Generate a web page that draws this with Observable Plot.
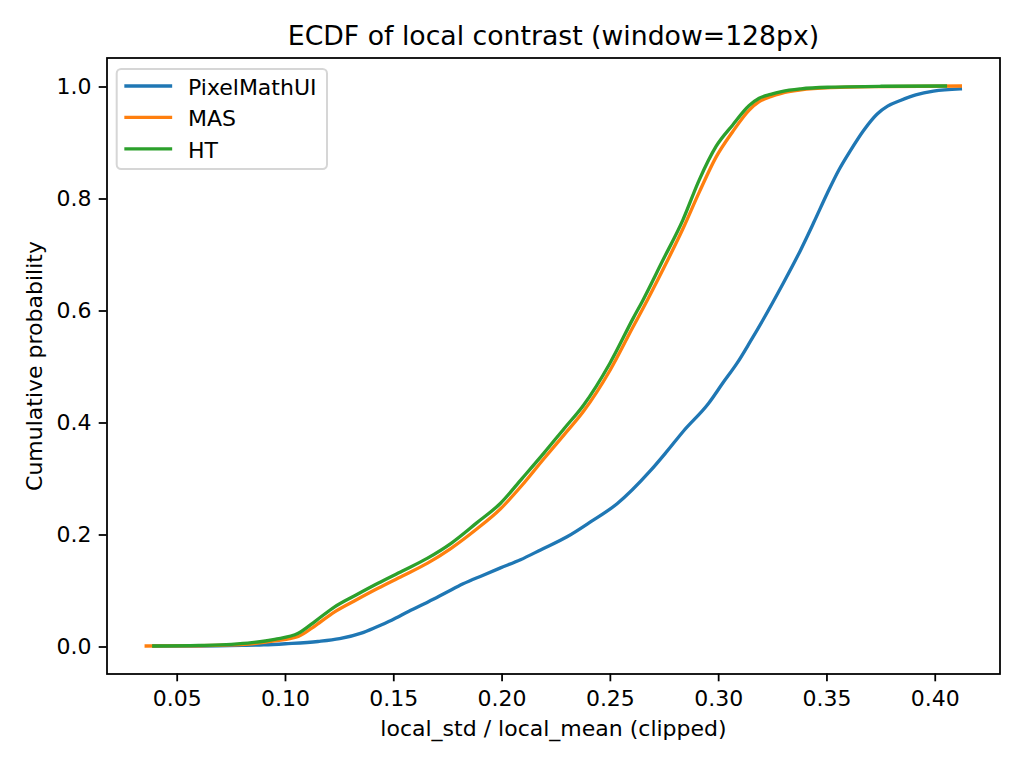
<!DOCTYPE html>
<html><head><meta charset="utf-8">
<script src="https://cdn.jsdelivr.net/npm/d3@7"></script>
<script src="https://cdn.jsdelivr.net/npm/@observablehq/plot@0.6"></script>
<style>
html,body{margin:0;padding:0;background:#fff;}
#chart{position:relative;width:1024px;height:768px;font-family:"DejaVu Sans",sans-serif;}
#legend{position:absolute;left:0;top:0;pointer-events:none;}
</style></head><body><div id="chart"></div>
<script>
const seriesNames = ["PixelMathUI", "MAS", "HT"];
const seriesColors = ["#1f77b4", "#ff7f0e", "#2ca02c"];

const pixelX = [0.0392, 0.060, 0.080, 0.090, 0.100, 0.115, 0.125, 0.135, 0.142, 0.149, 0.157, 0.166, 0.174, 0.182, 0.191, 0.199, 0.2085, 0.218, 0.230, 0.241, 0.2531, 0.2685, 0.276, 0.2838, 0.2953, 0.302, 0.3085, 0.3145, 0.3207, 0.329, 0.3377, 0.344, 0.3501, 0.3555, 0.3609, 0.367, 0.3732, 0.378, 0.3839, 0.391, 0.3992, 0.4116];
const pixelY = [0, 0, 0.001, 0.002, 0.004, 0.008, 0.013, 0.023, 0.034, 0.046, 0.062, 0.079, 0.095, 0.111, 0.126, 0.139, 0.154, 0.172, 0.195, 0.222, 0.254, 0.313, 0.347, 0.384, 0.433, 0.470, 0.505, 0.543, 0.584, 0.642, 0.706, 0.757, 0.808, 0.850, 0.885, 0.921, 0.950, 0.964, 0.974, 0.984, 0.991, 0.995];

const masX = [0.0357, 0.060, 0.075, 0.0845, 0.095, 0.1059, 0.114, 0.1227, 0.133, 0.1427, 0.154, 0.1656, 0.1763, 0.188, 0.1993, 0.2092, 0.2192, 0.2286, 0.2376, 0.2498, 0.2605, 0.2651, 0.274, 0.2835, 0.291, 0.2988, 0.3064, 0.3141, 0.3187, 0.324, 0.329, 0.338, 0.352, 0.375, 0.4116];
const masY = [0, 0.0005, 0.002, 0.004, 0.009, 0.017, 0.037, 0.061, 0.083, 0.103, 0.125, 0.148, 0.174, 0.208, 0.245, 0.287, 0.334, 0.377, 0.419, 0.492, 0.570, 0.603, 0.670, 0.745, 0.810, 0.873, 0.918, 0.957, 0.972, 0.981, 0.987, 0.993, 0.997, 0.999, 1.0];

const htX = [0.0392, 0.060, 0.075, 0.0845, 0.095, 0.1059, 0.114, 0.1227, 0.133, 0.1427, 0.154, 0.1656, 0.1763, 0.188, 0.1993, 0.2092, 0.2192, 0.2286, 0.2376, 0.2498, 0.2605, 0.2651, 0.274, 0.2835, 0.291, 0.2988, 0.3064, 0.3141, 0.3187, 0.324, 0.329, 0.338, 0.352, 0.375, 0.4047];
const htY = [0, 0.001, 0.003, 0.006, 0.012, 0.0227, 0.045, 0.070, 0.092, 0.112, 0.134, 0.157, 0.183, 0.219, 0.255, 0.299, 0.344, 0.388, 0.430, 0.505, 0.585, 0.618, 0.687, 0.761, 0.832, 0.892, 0.930, 0.965, 0.978, 0.985, 0.990, 0.995, 0.998, 0.9995, 1.0];

const xTicks = [0.05, 0.10, 0.15, 0.20, 0.25, 0.30, 0.35, 0.40];
const yTicks = [0.0, 0.2, 0.4, 0.6, 0.8, 1.0];
const titleText = "ECDF of local contrast (window=128px)";
const xLabel = "local_std / local_mean (clipped)";
const yLabel = "Cumulative probability";

const seriesData = [[pixelX, pixelY], [masX, masY], [htX, htY]];
const rows = [];
seriesData.forEach(([xs, ys], i) => xs.forEach((x, j) => rows.push({series: seriesNames[i], x, y: ys[j]})));

const plot = Plot.plot({
  width: 1024, height: 768,
  marginLeft: 106.5, marginRight: 24.5, marginTop: 57.5, marginBottom: 94.5,
  style: {fontFamily: "DejaVu Sans", fontSize: "22px", background: "white", color: "black"},
  x: {domain: [0.01759, 0.4299]},
  y: {domain: [-0.05, 1.05]},
  color: {domain: seriesNames, range: seriesColors},
  marks: [
    Plot.line(rows, {x: "x", y: "y", z: "series", stroke: "series", strokeWidth: 3.33, curve: "monotone-x", strokeLinecap: "square", strokeLinejoin: "round"}),
    Plot.frame({stroke: "black", strokeWidth: 1.78}),
    Plot.axisX({ticks: xTicks, tickFormat: d3.format(".2f"), tickSize: 7.8, tickPadding: 9, strokeWidth: 1.78, fontSize: 22, label: null}),
    Plot.axisY({ticks: yTicks, tickFormat: d3.format(".1f"), tickSize: 7.8, tickPadding: 7.7, strokeWidth: 1.78, fontSize: 22, dy: 1, label: null}),
    Plot.text([titleText], {text: d => d, frameAnchor: "top", dy: -13.5, lineAnchor: "bottom", fontSize: 26.7}),
    Plot.text([xLabel], {text: d => d, frameAnchor: "bottom", dy: 61.5, lineAnchor: "bottom", fontSize: 22}),
    Plot.text([yLabel], {text: d => d, frameAnchor: "left", textAnchor: "middle", dx: -65, rotate: -90, lineAnchor: "bottom", fontSize: 22})
  ]
});
const chart = document.getElementById("chart");
chart.appendChild(plot);

// legend overlay
const leg = d3.select(chart).append("svg").attr("id", "legend").attr("width", 1024).attr("height", 768)
  .style("font-family", "DejaVu Sans");
leg.append("rect").attr("x", 116.7).attr("y", 69).attr("width", 210.3).attr("height", 100)
  .attr("rx", 4.4).attr("fill", "white").attr("fill-opacity", 0.8)
  .attr("stroke", "#cccccc").attr("stroke-opacity", 0.8).attr("stroke-width", 2);
seriesNames.forEach((name, i) => {
  const cy = 86 + i * 31.4;
  leg.append("line").attr("x1", 126).attr("x2", 170.5).attr("y1", cy).attr("y2", cy)
    .attr("stroke", seriesColors[i]).attr("stroke-width", 3.33).attr("stroke-linecap", "square");
  leg.append("text").attr("x", 188).attr("y", cy + 8.8).attr("font-size", 22).attr("fill", "black").text(name);
});
</script></body></html>
